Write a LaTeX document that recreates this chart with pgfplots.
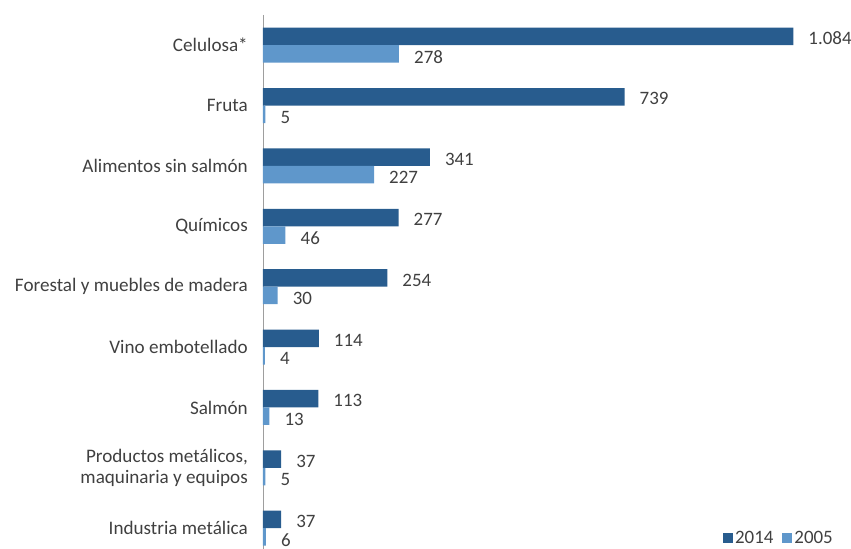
\documentclass[border=0pt]{standalone}
\usepackage{pgfplots}
\pgfplotsset{compat=1.18}
\usepackage{fontspec}
\setmainfont{Carlito}
\definecolor{dark}{HTML}{285C8E}
\definecolor{light}{HTML}{5F97CB}
\definecolor{txt}{HTML}{404040}
\begin{document}
\begin{tikzpicture}
\useasboundingbox (-263bp,0bp) rectangle (588bp,549bp);
\begin{axis}[
  at={(0,0)}, anchor=south west,
  scale only axis, width=588bp, height=534bp,
  xmin=0, xmax=1202,
  ymin=-0.5, ymax=8.344,
  y dir=reverse,
  axis x line=none,
  axis y line*=left,
  y axis line style={draw=black!38, line width=0.9pt, -},
  major tick length=0pt,
  ytick={0,...,8},
  yticklabels={Celulosa*, Fruta, Alimentos sin salmón, Químicos, Forestal y muebles de madera, Vino embotellado, Salmón, {Productos metálicos,\\maquinaria y equipos}, Industria metálica},
  yticklabel style={align=right, inner sep=0pt, xshift=-15bp, font=\fontsize{19.2}{21}\selectfont, text=txt},
  xbar, bar width=0.29,
  nodes near coords,
  /pgf/number format/.cd, 1000 sep={.}, assume math mode=true, /pgfplots/.cd,
  every node near coord/.append style={anchor=west, inner sep=0pt, xshift=15bp, font=\fontsize{19}{22}\selectfont, text=txt},
  legend columns=2,
  legend style={draw=none, fill=none, at={(1,0)}, anchor=south east, xshift=-16bp, yshift=2bp, font=\fontsize{19}{22}\selectfont, text=txt, inner sep=0pt,
    /tikz/every even column/.append style={column sep=7bp}},
]
\addplot[fill=dark, draw=none, bar shift=-0.145,
  every node near coord/.append style={yshift=-2bp},
  legend image code/.code={\fill[dark] (0bp,-5bp) rectangle (10bp,5bp);}]
  coordinates {(1084,0) (739,1) (341,2) (277,3) (254,4) (114,5) (113,6) (37,7) (37,8)};
\addlegendentry{2014}
\addplot[fill=light, draw=none, bar shift=0.145,
  every node near coord/.append style={yshift=-3bp},
  legend image code/.code={\fill[light] (0bp,-5bp) rectangle (10bp,5bp);}]
  coordinates {(278,0) (5,1) (227,2) (46,3) (30,4) (4,5) (13,6) (5,7) (6,8)};
\addlegendentry{2005}
\end{axis}
\end{tikzpicture}
\end{document}
